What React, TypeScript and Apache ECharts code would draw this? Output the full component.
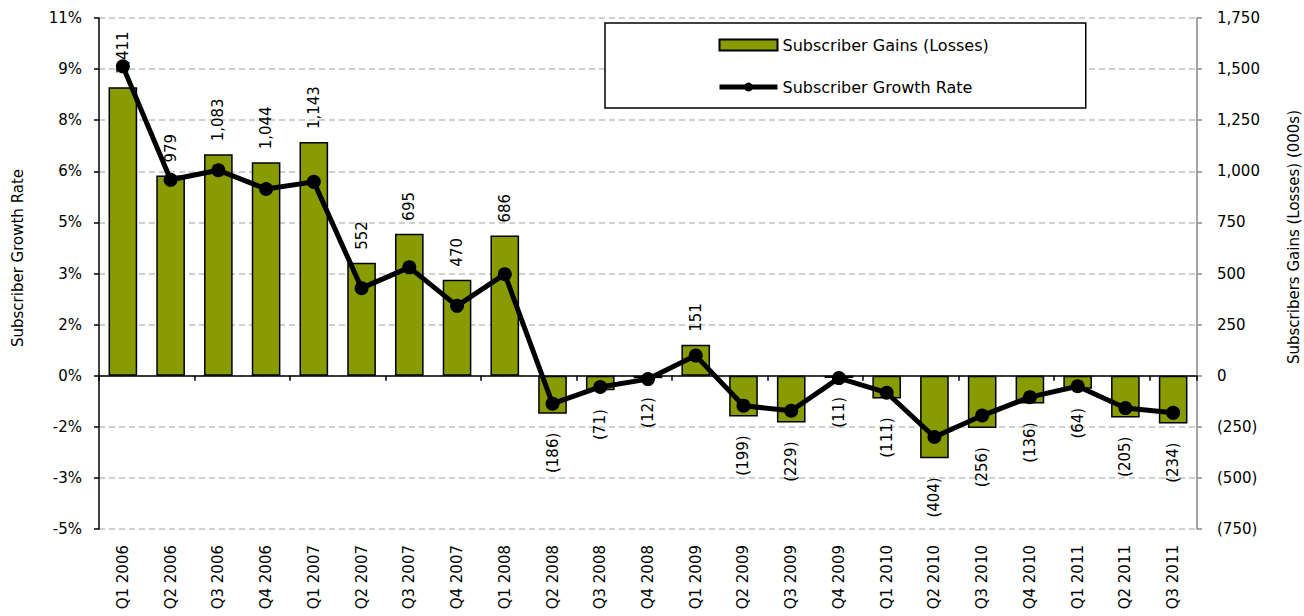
import React, { useEffect, useRef } from "react";
import * as echarts from "echarts";

const categories = [
  "Q1 2006", "Q2 2006", "Q3 2006", "Q4 2006", "Q1 2007", "Q2 2007", "Q3 2007", "Q4 2007",
  "Q1 2008", "Q2 2008", "Q3 2008", "Q4 2008", "Q1 2009", "Q2 2009", "Q3 2009", "Q4 2009",
  "Q1 2010", "Q2 2010", "Q3 2010", "Q4 2010", "Q1 2011", "Q2 2011", "Q3 2011",
];

const subscriberGains = [
  1411, 979, 1083, 1044, 1143, 552, 695, 470, 686, -186, -71, -12, 151, -199, -229, -11,
  -111, -404, -256, -136, -64, -205, -234,
];

const growthRate = [
  9.08, 5.75, 6.03, 5.48, 5.69, 2.57, 3.18, 2.05, 2.98, -0.82, -0.33, -0.1, 0.59, -0.88,
  -1.03, -0.07, -0.5, -1.8, -1.17, -0.63, -0.31, -0.95, -1.09,
];

const leftAxisTitle = "Subscriber Growth Rate";
const rightAxisTitle = "Subscribers Gains (Losses) (000s)";
const barName = "Subscriber Gains (Losses)";
const lineName = "Subscriber Growth Rate";

const FONT = "DejaVu Sans";
const OLIVE = "#889b00";

const fmtThousands = (v: number) => v.toLocaleString("en-US");
const fmtGain = (v: number) => (v < 0 ? `(${fmtThousands(-v)})` : fmtThousands(v));
const fmtPct = (v: number) => {
  const a = Math.round(Math.abs(v) * 1000) / 1000;
  const n = Math.floor(a + 0.5);
  return (v < 0 && n !== 0 ? "-" : "") + n + "%";
};

export default function App() {
  const ref = useRef<HTMLDivElement>(null);
  useEffect(() => {
    if (!ref.current) return;
    const chart = echarts.init(ref.current, undefined, { renderer: "svg" });
    const barData = subscriberGains.map((v) => ({
      value: v,
      label:
        v >= 0
          ? { position: "top", align: "left", verticalAlign: "middle", distance: 13 }
          : { position: "bottom", align: "right", verticalAlign: "middle", distance: 19 },
    }));
    chart.setOption({
      animation: false,
      textStyle: { fontFamily: FONT },
      grid: { left: 99, right: 107, top: 18, bottom: 87, containLabel: false },
      legend: {
        orient: "vertical",
        left: 605,
        top: 23,
        padding: [14, 97, 13, 112],
        borderColor: "#000",
        borderWidth: 1.5,
        backgroundColor: "#fff",
        itemWidth: 58,
        itemHeight: 11,
        itemGap: 26,
        textStyle: { fontFamily: FONT, fontSize: 16, color: "#000" },
        data: [
          { name: barName, icon: "rect" },
          { name: lineName },
        ],
        lineStyle: { width: 5 },
      },
      xAxis: [
        {
          type: "category",
          data: categories,
          position: "bottom",
          boundaryGap: true,
          axisLine: { show: true, onZero: true, lineStyle: { color: "#000", width: 1.5 } },
          axisTick: { show: true, length: 5, alignWithLabel: false, lineStyle: { color: "#000", width: 1.5 } },
          axisLabel: { show: false },
          splitLine: { show: false },
        },
        {
          type: "category",
          data: categories,
          position: "bottom",
          boundaryGap: true,
          axisLine: { show: false, onZero: false },
          axisTick: { show: false },
          axisLabel: {
            show: true,
            rotate: 90,
            margin: 16,
            interval: 0,
            fontFamily: FONT,
            fontSize: 15,
            color: "#000",
          },
          splitLine: { show: false },
        },
      ],
      yAxis: [
        {
          type: "value",
          position: "left",
          min: -4.5,
          max: 10.5,
          interval: 1.5,
          axisLine: { show: true, lineStyle: { color: "#000", width: 1.5 } },
          axisTick: { show: true, length: 5, lineStyle: { color: "#000", width: 1.5 } },
          axisLabel: { formatter: fmtPct, margin: 17, fontFamily: FONT, fontSize: 15, color: "#000" },
          splitLine: { show: true, lineStyle: { color: "#c0c0c0", type: [6, 4], width: 1.5 } },
        },
        {
          type: "value",
          position: "right",
          min: -750,
          max: 1750,
          interval: 250,
          axisLine: { show: true, lineStyle: { color: "#888", width: 1.5 } },
          axisTick: { show: true, length: 5, lineStyle: { color: "#888", width: 1.5 } },
          axisLabel: { formatter: fmtGain, margin: 20, fontFamily: FONT, fontSize: 15, color: "#000" },
          splitLine: { show: false },
        },
      ],
      graphic: [
        {
          type: "text",
          x: 18,
          y: 258,
          rotation: Math.PI / 2,
          style: {
            text: leftAxisTitle,
            textAlign: "center",
            textVerticalAlign: "middle",
            font: `15px "${FONT}"`,
            fill: "#000",
          },
        },
        {
          type: "text",
          x: 1294,
          y: 237,
          rotation: Math.PI / 2,
          style: {
            text: rightAxisTitle,
            textAlign: "center",
            textVerticalAlign: "middle",
            font: `15px "${FONT}"`,
            fill: "#000",
          },
        },
      ],
      series: [
        {
          name: barName,
          type: "bar",
          xAxisIndex: 0,
          yAxisIndex: 1,
          z: 2,
          barCategoryGap: "40%",
          data: barData,
          itemStyle: { color: OLIVE, borderColor: "#000", borderWidth: 1.5 },
          label: {
            show: true,
            rotate: 90,
            formatter: (p: any) => fmtGain(p.value),
            fontFamily: FONT,
            fontSize: 15,
            color: "#000",
          },
        },
        {
          name: lineName,
          type: "line",
          xAxisIndex: 0,
          yAxisIndex: 0,
          z: 3,
          data: growthRate,
          symbol: "circle",
          symbolSize: 14,
          lineStyle: { color: "#000", width: 5 },
          itemStyle: { color: "#000" },
        },
      ],
    });
    return () => chart.dispose();
  }, []);
  return (
    <div
      ref={ref}
      style={{ position: "absolute", left: 0, top: 0, width: 1304, height: 616, background: "#fff" }}
    />
  );
}
